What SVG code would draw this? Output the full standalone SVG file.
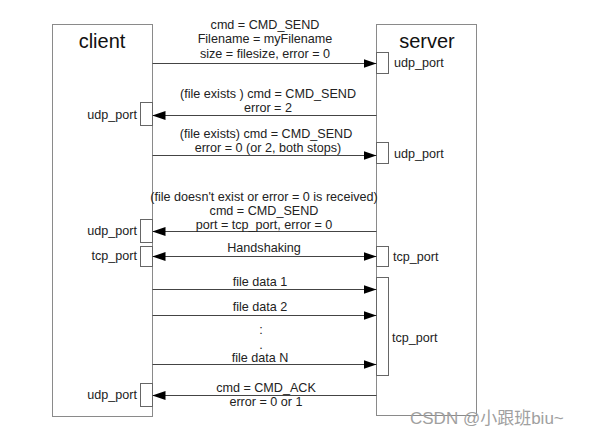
<svg xmlns="http://www.w3.org/2000/svg" width="599" height="438" viewBox="0 0 599 438">
<style>
.box{fill:#fff;stroke:#8a8a8a;stroke-width:1}
.port{fill:#fff;stroke:#666;stroke-width:1}
.ln{stroke:#444;stroke-width:1;fill:none}
.t{font-family:"Liberation Sans",Arial,sans-serif;font-size:12.6px;fill:#222}
.c{text-anchor:middle}
.r{text-anchor:end}
.h{font-family:"Liberation Sans",Arial,sans-serif;font-size:20px;fill:#111;text-anchor:middle}
.wm{font-family:"Liberation Sans","Noto Sans CJK SC",sans-serif;font-size:17px;fill:#a0a0a0}
</style>
<defs>
<marker id="ah" viewBox="0 0 13 9" refX="13" refY="4.5" markerWidth="13" markerHeight="9" markerUnits="userSpaceOnUse" orient="auto-start-reverse">
<path d="M0,0 L13,4.5 L0,9 Z" fill="#000"/>
</marker>
</defs>
<rect width="599" height="438" fill="#fff"/>
<g id="client">
<rect class="box" x="52.5" y="24.5" width="100" height="392"/>
<text class="h" x="102" y="48">client</text>
<rect class="port" x="140.5" y="102.5" width="12" height="23"/>
<text class="t r" x="137" y="119">udp_port</text>
<rect class="port" x="140.5" y="219.5" width="12" height="23"/>
<text class="t r" x="137" y="235">udp_port</text>
<rect class="port" x="140.5" y="246.5" width="12" height="20"/>
<text class="t r" x="137" y="260">tcp_port</text>
<rect class="port" x="140.5" y="383.5" width="12" height="23"/>
<text class="t r" x="137" y="399">udp_port</text>
</g>
<g id="server">
<rect class="box" x="376.5" y="24.5" width="100" height="391"/>
<text class="h" x="427" y="48">server</text>
<rect class="port" x="376.5" y="52.5" width="12" height="21"/>
<text class="t" x="394" y="67">udp_port</text>
<rect class="port" x="376.5" y="142.5" width="12" height="21"/>
<text class="t" x="394" y="158">udp_port</text>
<rect class="port" x="376.5" y="246.5" width="12" height="20"/>
<text class="t" x="393" y="261">tcp_port</text>
<rect class="port" x="376.5" y="277.5" width="12" height="98"/>
<text class="t" x="392" y="342">tcp_port</text>
</g>
<g id="connectors">
<line class="ln" x1="152.5" y1="63.5" x2="376.5" y2="63.5" marker-end="url(#ah)"/>
<line class="ln" x1="376.5" y1="115.5" x2="152.5" y2="115.5" marker-end="url(#ah)"/>
<line class="ln" x1="152.5" y1="155.5" x2="376.5" y2="155.5" marker-end="url(#ah)"/>
<line class="ln" x1="376.5" y1="231.5" x2="152.5" y2="231.5" marker-end="url(#ah)"/>
<line class="ln" x1="152.5" y1="256.5" x2="376.5" y2="256.5" marker-start="url(#ah)" marker-end="url(#ah)"/>
<line class="ln" x1="152.5" y1="289.5" x2="376.5" y2="289.5" marker-end="url(#ah)"/>
<line class="ln" x1="152.5" y1="315.5" x2="376.5" y2="315.5" marker-end="url(#ah)"/>
<line class="ln" x1="152.5" y1="364.5" x2="376.5" y2="364.5" marker-end="url(#ah)"/>
<line class="ln" x1="376.5" y1="395.5" x2="152.5" y2="395.5" marker-end="url(#ah)"/>
</g>
<g id="labels">
<text class="t c" x="265" y="28.5">cmd = CMD_SEND</text>
<text class="t c" x="265" y="43">Filename = myFilename</text>
<text class="t c" x="265" y="57.5">size = filesize, error = 0</text>
<text class="t c" x="268" y="98">(file exists ) cmd = CMD_SEND</text>
<text class="t c" x="268" y="111.5">error = 2</text>
<text class="t c" x="266" y="138">(file exists) cmd = CMD_SEND</text>
<text class="t c" x="268" y="152">error = 0 (or 2, both stops)</text>
<text class="t c" x="264" y="200.5">(file doesn't exist or error = 0 is received)</text>
<text class="t c" x="264" y="214.5">cmd = CMD_SEND</text>
<text class="t c" x="264" y="228.5">port = tcp_port, error = 0</text>
<text class="t c" x="264" y="252">Handshaking</text>
<text class="t c" x="260" y="285.5">file data 1</text>
<text class="t c" x="260" y="311">file data 2</text>
<text class="t c" x="261" y="334">:</text>
<text class="t c" x="261" y="349">.</text>
<text class="t c" x="260" y="362">file data N</text>
<text class="t c" x="266" y="391.5">cmd = CMD_ACK</text>
<text class="t c" x="266" y="406">error = 0 or 1</text>
</g>
<text class="wm" x="410" y="424">CSDN @小跟班biu~</text>
</svg>
